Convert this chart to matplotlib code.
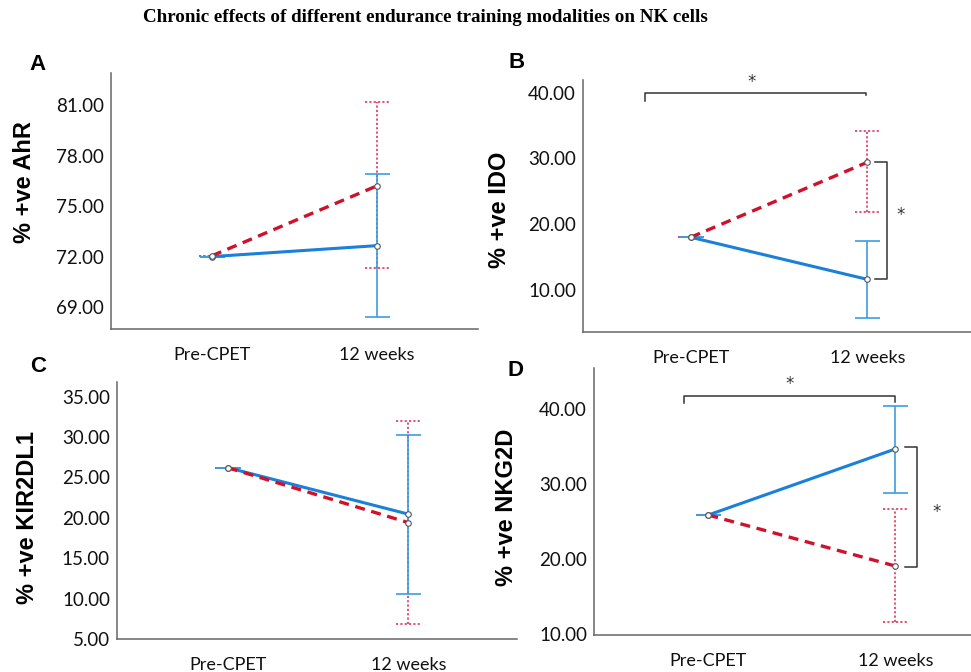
import matplotlib.pyplot as plt
import numpy as np

W, H = 971, 672

groups = ["Pre-CPET", "12 weeks"]

# A: % +ve AhR
ahr_blue = [72.0, 72.65]
ahr_blue_err = [[0.0, 4.25], [0.0, 4.25]]   # lower, upper
ahr_red = [72.05, 76.2]
ahr_red_err = [[0.0, 4.9], [0.0, 5.0]]

# B: % +ve IDO
ido_blue = [18.0, 11.6]
ido_blue_err = [[0.0, 5.9], [0.0, 5.9]]
ido_red = [18.0, 29.4]
ido_red_err = [[0.0, 7.5], [0.0, 4.7]]

# C: % +ve KIR2DL1
kir_blue = [26.2, 20.45]
kir_blue_err = [[0.0, 9.85], [0.0, 9.75]]
kir_red = [26.2, 19.4]
kir_red_err = [[0.0, 12.6], [0.0, 12.6]]

# D: % +ve NKG2D
nkg_blue = [25.9, 34.7]
nkg_blue_err = [[0.0, 5.8], [0.0, 5.7]]
nkg_red = [25.9, 19.1]
nkg_red_err = [[0.0, 7.5], [0.0, 7.55]]

BLUE = '#1a80d9'
BLUE_ERR = '#3b9ce3'
RED = '#d0112b'
RED_ERR = '#e2436c'
DARK = '#333333'

fig = plt.figure(figsize=(W/100, H/100), dpi=100)

def px_axes(l, t, r, b):
    return fig.add_axes([l/W, 1-b/H, (r-l)/W, (b-t)/H])

def panel(ax, blue, blue_err, red, red_err, ylim, yticks, xlim, ylabel, lab_xy):
    x = np.arange(2)
    ax.set_xlim(*xlim)
    ax.set_ylim(*ylim)
    # cap half width ~12.5 px in data units
    wpx = ax.get_position().width * W
    cap = 12.5 / wpx * (xlim[1] - xlim[0])
    lo = np.array(red) - np.array(red_err[0])
    hi = np.array(red) + np.array(red_err[1])
    ax.vlines(x, lo, hi, colors=RED_ERR, linestyles=(0, (1.2, 1.2)), lw=1.3, zorder=2)
    ax.hlines(np.r_[lo, hi], np.r_[x, x] - cap, np.r_[x, x] + cap, colors=RED_ERR,
              linestyles=(0, (1.2, 1.2)), lw=1.3, zorder=2)
    ax.errorbar(x, blue, yerr=blue_err, fmt='none', ecolor=BLUE_ERR, elinewidth=1.2,
                capsize=9, capthick=1.2, zorder=2)
    ax.plot(x, blue, color=BLUE, lw=2.2, zorder=3)
    ax.plot(x, red, color=RED, lw=2.4, ls=(0, (3, 2)), zorder=4)
    ax.plot(x, blue, 'o', ms=4, mfc='white', mec='#4a5a6a', mew=0.8, zorder=5)
    ax.plot(x, red, 'o', ms=4, mfc='white', mec='#555555', mew=0.8, zorder=5)
    ax.set_yticks(yticks)
    ax.set_yticklabels(['%.2f' % v for v in yticks], fontfamily='Lato', fontsize=13.5, color='#111111')
    ax.set_xticks(x)
    ax.set_xticklabels(groups, fontfamily='Lato', fontsize=13, color='#111111')
    ax.tick_params(length=0, pad=5)
    ax.tick_params(axis='x', pad=13)
    for s in ['top', 'right']:
        ax.spines[s].set_visible(False)
    for s in ['left', 'bottom']:
        ax.spines[s].set_color('#666666')
        ax.spines[s].set_linewidth(1.1)
    ax.set_ylabel(ylabel, fontfamily='Liberation Sans', fontweight='bold', fontsize=17, va='center')
    ax.yaxis.set_label_coords(*lab_xy)

def bracket_top(ax, x0, x1, y, y0, y1, sx, sy):
    ax.plot([x0, x0, x1, x1], [y0, y, y, y1], color=DARK, lw=1.1, clip_on=False)
    ax.text(sx, sy, '*', ha='center', va='center', fontsize=12, color=DARK, fontfamily='DejaVu Sans')

def bracket_side(ax, x, xt, y0, y1, sx, sy):
    ax.plot([xt, x, x, xt], [y0, y0, y1, y1], color=DARK, lw=1.1, clip_on=False)
    ax.text(sx, sy, '*', ha='center', va='center', fontsize=12, color=DARK, fontfamily='DejaVu Sans')

axA = px_axes(111, 73, 478, 329)
panel(axA, ahr_blue, ahr_blue_err, ahr_red, ahr_red_err, (67.7, 82.9), [69, 72, 75, 78, 81],
      (-0.612, 1.612), '% +ve AhR', (-0.235, 0.574))

axB = px_axes(583, 80, 971, 332)
panel(axB, ido_blue, ido_blue_err, ido_red, ido_red_err, (3.6, 41.9), [10, 20, 30, 40],
      (-0.610, 1.587), '% +ve IDO', (-0.214, 0.484))
bracket_top(axB, -0.259, 0.995, 40.0, 38.7, 39.65, 0.345, 41.6)
bracket_side(axB, 1.112, 1.043, ido_red[1], ido_blue[1], 1.189, 21.4)

axC = px_axes(117, 382, 517, 639)
panel(axC, kir_blue, kir_blue_err, kir_red, kir_red_err, (5.0, 36.8), [5, 10, 15, 20, 25, 30, 35],
      (-0.613, 1.602), '% +ve KIR2DL1', (-0.2225, 0.473))

axD = px_axes(594, 368, 971, 635)
panel(axD, nkg_blue, nkg_blue_err, nkg_red, nkg_red_err, (9.9, 45.5), [10, 20, 30, 40],
      (-0.611, 1.405), '% +ve NKG2D', (-0.231, 0.478))
bracket_top(axD, -0.132, 1.0, 41.8, 40.8, 41.0, 0.437, 43.3)
bracket_side(axD, 1.118, 1.051, 35.0, 19.0, 1.222, 26.3)

for lab, (x, y) in zip('ABCD', [(38, 65), (517, 63), (38, 367), (515, 370)]):
    fig.text(x/W, 1-y/H, lab, ha='center', va='center', fontfamily='Liberation Sans',
             fontweight='bold', fontsize=16)

fig.text(425/W, 1-18/H, 'Chronic effects of different endurance training modalities on NK cells',
         ha='center', va='center', fontfamily='Liberation Serif', fontweight='bold', fontsize=13.7)

fig.savefig('out.png', dpi=100)
